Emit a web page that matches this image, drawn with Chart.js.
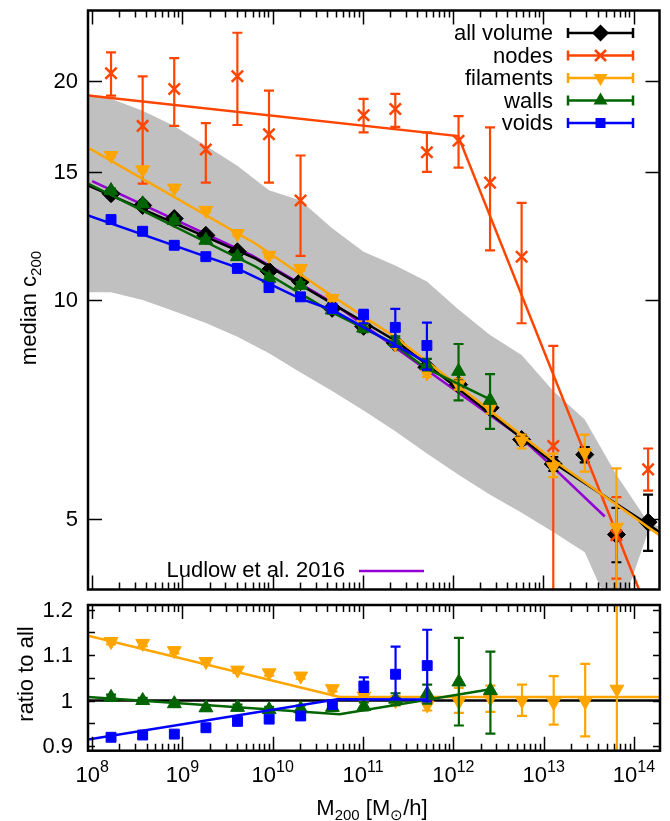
<!DOCTYPE html>
<html>
<head>
<meta charset="utf-8">
<script src="https://cdn.jsdelivr.net/npm/chart.js@4.4.1/dist/chart.umd.min.js"></script>
<style>
html, body { margin: 0; padding: 0; background: #fff; }
#wrap { position: relative; width: 670px; height: 821px; }
canvas { position: absolute; left: 0; }
#top { top: 0; }
#bot { top: 596px; }
</style>
</head>
<body>
<div id="wrap">
  <canvas id="top" width="670" height="600"></canvas>
  <canvas id="bot" width="670" height="225"></canvas>
</div>
<script>
// halo mass bins (M200 [Msun/h])
const masses = [1.62e8, 3.63e8, 8.13e8, 1.82e9, 4.07e9, 9.12e9, 2.04e10, 4.57e10, 1.02e11,
                2.29e11, 5.13e11, 1.15e12, 2.57e12, 5.75e12, 1.29e13, 2.88e13, 6.46e13, 1.45e14];

// median c200 per environment, with error bar ends
const allC  = [14.0, 13.49, 12.94, 12.27, 11.65, 10.96, 10.6, 9.74, 9.2, 8.73, 8.08, 7.65, 7.11, 6.43, 5.95, 6.13, 4.76, 4.95];
const allLo = [13.9, 13.4, 12.85, 12.18, 11.56, 10.88, 10.52, 9.66, 9.12, 8.65, 8.0, 7.56, 7.02, 6.33, 5.82, 5.98, 4.36, 4.52];
const allHi = [14.1, 13.58, 13.03, 12.36, 11.74, 11.04, 10.68, 9.82, 9.28, 8.81, 8.16, 7.74, 7.2, 6.53, 6.08, 6.28, 5.18, 5.4];

const nodeC  = [20.5, 17.35, 19.5, 16.1, 20.3, 16.9, 13.7, null, 17.95, 18.3, 15.96, 16.55, 14.5, 11.47, 6.3, null, 4.75, 5.85];
const nodeLo = [19.1, 14.45, 17.35, 14.5, 17.4, 14.5, 11.5, null, 17.0, 17.3, 15.0, 15.2, 11.7, 9.29, 3.0, null, 4.14, 5.47];
const nodeHi = [21.9, 20.3, 21.5, 17.5, 23.3, 19.4, 15.8, null, 18.9, 19.2, 17.0, 17.9, 17.27, 13.6, 8.65, null, 5.36, 6.25];

const filC  = [15.8, 15.1, 14.25, 13.28, 12.34, 11.52, 11.05, 10.05, 9.26, 8.7, 7.94, 7.65, 7.11, 6.4, 5.9, 6.17, 4.87, null];
const filLo = [15.72, 15.02, 14.17, 13.2, 12.26, 11.44, 10.97, 9.97, 9.17, 8.6, 7.84, 7.53, 6.98, 6.25, 5.71, 5.81, 3.0, null];
const filHi = [15.88, 15.18, 14.33, 13.36, 12.42, 11.6, 11.13, 10.13, 9.35, 8.8, 8.04, 7.8, 7.2, 6.53, 6.15, 6.53, 5.87, null];

const wallC  = [14.14, 13.56, 12.86, 12.08, 11.47, 10.71, 10.48, 9.69, 9.15, 8.77, 8.13, 7.98, 7.28, null, null, null, null, null];
const wallLo = [14.05, 13.47, 12.77, 11.99, 11.38, 10.62, 10.38, 9.58, 9.03, 8.63, 8.0, 7.28, 6.65, null, null, null, null, null];
const wallHi = [14.23, 13.65, 12.95, 12.17, 11.56, 10.8, 10.58, 9.8, 9.27, 8.91, 8.3, 8.7, 7.91, null, null, null, null, null];

const voidC  = [12.9, 12.43, 11.89, 11.47, 11.05, 10.4, 10.1, 9.74, 9.54, 9.17, 8.66, null, null, null, null, null, null, null];
const voidLo = [12.82, 12.35, 11.8, 11.38, 10.96, 10.3, 9.99, 9.6, 9.29, 8.63, 8.02, null, null, null, null, null, null, null];
const voidHi = [12.98, 12.51, 11.98, 11.56, 11.14, 10.5, 10.21, 9.88, 9.69, 9.72, 9.31, null, null, null, null, null, null, null];

// grey scatter band of all haloes
const bandMass = [9e7, 1.62e8, 3.63e8, 8.13e8, 1.82e9, 4.07e9, 9.12e9, 2.04e10, 4.57e10, 1.02e11,
                  2.29e11, 5.13e11, 1.15e12, 2.57e12, 5.75e12, 1.29e13, 2.88e13, 6.46e13, 1.45e14, 1.94e14];
const bandHigh = [19.2, 18.9, 18.2, 17.35, 16.3, 15.3, 14.15, 13.7, 12.55, 11.65,
                  11.15, 10.6, 9.7, 8.95, 8.4, 7.5, 6.85, 5.75, 4.95, 4.88];
const bandLow  = [10.25, 10.25, 10.0, 9.65, 9.3, 8.9, 8.45, 7.95, 7.5, 7.05,
                  6.6, 6.15, 5.75, 5.4, 5.1, 4.8, 4.5, 3.6, 4.8, 4.86];

// fitted curves
const allFitMass  = [9e7, 6.5e9, 2.38e11, 1.0e12, 1.28e13, 1.94e14];
const allFitC     = [14.37, 11.4, 8.77, 7.65, 5.98, 4.8];
const nodeFitMass = [9e7, 1.14e12, 1.94e14];
const nodeFitC    = [19.1, 16.8, 3.4];
const filFitMass  = [9e7, 6.5e9, 4.4e10, 2.38e11, 1.0e12, 1.28e13, 1.94e14];
const filFitC     = [16.2, 11.95, 10.16, 8.86, 7.72, 6.03, 4.75];
const wallFitMass = [9e7, 6.5e9, 4.4e10, 2.0e11, 5.0e11, 2.57e12];
const wallFitC    = [14.45, 11.11, 9.64, 8.77, 8.06, 7.3];
const voidFitMass = [9e7, 3.4e9, 2.0e10, 4.6e10, 5.13e11];
const voidFitC    = [13.07, 11.17, 10.05, 9.69, 8.2];
const ludlowMass  = [1.0e8, 5.9e9, 4.4e10, 5.1e12, 1.08e13, 4.8e13];
const ludlowC     = [14.57, 11.52, 9.95, 6.54, 6.01, 5.04];

// ratio to all volume (lower panel)
const ratioFil   = [1.13, 1.126, 1.11, 1.086, 1.067, 1.061, 1.054, 1.026, 1.01, 1.0, 0.99, 0.998, 1.005, 1.0, 0.996, 0.998, 1.025, null];
const ratioFilLo = [1.124, 1.12, 1.104, 1.08, 1.061, 1.055, 1.048, 1.02, 1.0, 0.99, 0.978, 0.973, 0.975, 0.966, 0.947, 0.921, 0.8, null];
const ratioFilHi = [1.136, 1.132, 1.116, 1.092, 1.073, 1.067, 1.06, 1.032, 1.02, 1.01, 1.002, 1.028, 1.033, 1.035, 1.054, 1.081, 1.3, null];
const ratioWall   = [1.007, 1.0, 0.993, 0.984, 0.985, 0.98, 0.982, 0.985, 0.987, 1.003, 1.015, 1.041, 1.022];
const ratioWallLo = [1.001, 0.994, 0.987, 0.978, 0.979, 0.974, 0.975, 0.977, 0.978, 0.99, 0.993, 0.945, 0.927];
const ratioWallHi = [1.013, 1.006, 0.999, 0.99, 0.991, 0.986, 0.989, 0.993, 0.996, 1.016, 1.035, 1.138, 1.108];
const ratioVoid   = [0.919, 0.924, 0.926, 0.94, 0.954, 0.959, 0.966, 0.991, 1.032, 1.058, 1.077];
const ratioVoidLo = [0.913, 0.918, 0.92, 0.934, 0.948, 0.953, 0.959, 0.982, 1.019, 1.005, 0.998];
const ratioVoidHi = [0.925, 0.93, 0.932, 0.946, 0.96, 0.965, 0.973, 1.0, 1.051, 1.119, 1.156];

const ratioAllMass  = [9e7, 1.94e14];
const ratioAll      = [1, 1];
const ratioFilMass  = [9e7, 5.5e10, 1.94e14];
const ratioFilFit   = [1.143, 1.008, 1.008];
const ratioWallMass = [9e7, 5.5e10, 2.57e12];
const ratioWallFit  = [1.008, 0.97, 1.025];
const ratioVoidMass = [9e7, 5.2e10, 5.13e11];
const ratioVoidFit  = [0.914, 1.003, 1.002];

const topYTicks = [5, 10, 15, 20];
const botYTicks = [0.9, 0.95, 1.0, 1.05, 1.1, 1.15, 1.2];
const botYLabels = { 0.9: '0.9', 1: '1', 1.1: '1.1', 1.2: '1.2' };
const xDecades = [8, 9, 10, 11, 12, 13, 14];

const legendNames = ['all volume', 'nodes', 'filaments', 'walls', 'voids'];

const BLACK = '#000000', NODE = '#ff4500', FIL = '#ffa500', WALL = '#006400', VOID = '#0000ff', LUD = '#9400d3';
const FONT = '"Liberation Sans", Arial, sans-serif';
const LW = 2.5;

function curve(xs, ys) {
    return xs.map((x, i) => ({ x: x, y: ys[i] }));
}

function pts(ys, lo, hi) {
    const out = [];
    ys.forEach((y, i) => {
        if (y != null) out.push({ x: masses[i], y: y, lo: lo[i], hi: hi[i] });
    });
    return out;
}

function line(xs, ys, color, order) {
    return { data: curve(xs, ys), showLine: true, borderColor: color, borderWidth: LW,
             pointRadius: 0, fill: false, order: order };
}

function marks(data, color, style, r, rot, order) {
    return { data: data, showLine: false, errbars: true, borderColor: color, backgroundColor: color,
             pointStyle: style, pointRadius: r, pointRotation: rot,
             pointBorderWidth: style === 'crossRot' ? 2.5 : 1, order: order };
}

// draw text made of pieces with own size and vertical shift (sub/superscripts)
function richText(ctx, parts, x, y, align) {
    let w = 0;
    parts.forEach(p => { ctx.font = p[1] + 'px ' + FONT; w += ctx.measureText(p[0]).width; });
    let cx = align === 'center' ? x - w / 2 : (align === 'right' ? x - w : x);
    ctx.textAlign = 'left';
    ctx.textBaseline = 'alphabetic';
    parts.forEach(p => {
        ctx.font = p[1] + 'px ' + FONT;
        ctx.fillText(p[0], cx, y + p[2]);
        cx += ctx.measureText(p[0]).width;
    });
}

function markerShape(ctx, style, x, y, color) {
    ctx.fillStyle = color;
    ctx.strokeStyle = color;
    ctx.beginPath();
    if (style === 'diamond') {
        ctx.moveTo(x, y - 8.5); ctx.lineTo(x + 8.5, y); ctx.lineTo(x, y + 8.5); ctx.lineTo(x - 8.5, y); ctx.closePath(); ctx.fill();
    } else if (style === 'cross') {
        ctx.lineWidth = 2.5;
        ctx.moveTo(x - 5.5, y - 5.5); ctx.lineTo(x + 5.5, y + 5.5); ctx.moveTo(x - 5.5, y + 5.5); ctx.lineTo(x + 5.5, y - 5.5); ctx.stroke();
    } else if (style === 'down') {
        ctx.moveTo(x - 7, y - 4); ctx.lineTo(x + 7, y - 4); ctx.lineTo(x, y + 8); ctx.closePath(); ctx.fill();
    } else if (style === 'up') {
        ctx.moveTo(x - 7, y + 4); ctx.lineTo(x + 7, y + 4); ctx.lineTo(x, y - 8); ctx.closePath(); ctx.fill();
    } else {
        ctx.rect(x - 5, y - 5, 10, 10); ctx.fill();
    }
}

const errorBars = {
    id: 'errorBars',
    beforeDatasetDraw(chart, args) {
        const ds = chart.data.datasets[args.index];
        if (!ds.errbars) return;
        const ctx = chart.ctx, a = chart.chartArea, xs = chart.scales.x, ys = chart.scales.y;
        ctx.save();
        ctx.beginPath();
        ctx.rect(a.left, a.top, a.right - a.left, a.bottom - a.top);
        ctx.clip();
        ctx.strokeStyle = ds.borderColor;
        ctx.lineWidth = 2.2;
        ds.data.forEach(p => {
            if (p.lo == null) return;
            const px = xs.getPixelForValue(p.x);
            const lo = ys.getPixelForValue(p.lo), hi = ys.getPixelForValue(p.hi);
            ctx.beginPath();
            ctx.moveTo(px, lo); ctx.lineTo(px, hi);
            ctx.moveTo(px - 5, lo); ctx.lineTo(px + 5, lo);
            ctx.moveTo(px - 5, hi); ctx.lineTo(px + 5, hi);
            ctx.stroke();
        });
        ctx.restore();
    }
};

// frame with inward ticks on all four sides
function drawFrame(chart, yTicks, yLen) {
    const ctx = chart.ctx, a = chart.chartArea, xs = chart.scales.x, ys = chart.scales.y;
    ctx.save();
    ctx.strokeStyle = BLACK;
    ctx.lineWidth = 1.5;
    ctx.beginPath();
    for (let d = 7; d <= 14; d++) {
        for (let k = 1; k <= 9; k++) {
            const v = k * Math.pow(10, d);
            if (v <= xs.min * 1.001 || v >= xs.max / 1.001) continue;
            const px = Math.round(xs.getPixelForValue(v)) + 0.5;
            const len = k === 1 ? 14 : 7;
            ctx.moveTo(px, a.bottom); ctx.lineTo(px, a.bottom - len);
            ctx.moveTo(px, a.top); ctx.lineTo(px, a.top + len);
        }
    }
    yTicks.forEach(v => {
        const py = Math.round(ys.getPixelForValue(v)) + 0.5;
        ctx.moveTo(a.left, py); ctx.lineTo(a.left + yLen, py);
        ctx.moveTo(a.right, py); ctx.lineTo(a.right - yLen, py);
    });
    ctx.stroke();
    ctx.lineWidth = 2.5;
    ctx.strokeRect(a.left, a.top, a.right - a.left, a.bottom - a.top);
    ctx.restore();
}

const topDecor = {
    id: 'topDecor',
    afterDatasetsDraw(chart) {
        const ctx = chart.ctx, ys = chart.scales.y;
        drawFrame(chart, topYTicks, 14);
        ctx.save();
        ctx.fillStyle = BLACK;
        ctx.font = '22px ' + FONT;
        ctx.textAlign = 'right';
        ctx.textBaseline = 'middle';
        topYTicks.forEach(v => ctx.fillText(String(v), 78, ys.getPixelForValue(v) + 1));

        ctx.save();
        ctx.translate(36, 308);
        ctx.rotate(-Math.PI / 2);
        richText(ctx, [['median c', 22, 0], ['200', 15, 5]], 0, 0, 'center');
        ctx.restore();

        // key
        const colors = [BLACK, NODE, FIL, WALL, VOID];
        const shapes = ['diamond', 'cross', 'down', 'up', 'square'];
        legendNames.forEach((name, i) => {
            const y = 33 + i * 22.5;
            ctx.fillStyle = BLACK;
            ctx.font = '22px ' + FONT;
            ctx.textAlign = 'right';
            ctx.textBaseline = 'middle';
            ctx.fillText(name, 553, y + 1);
            ctx.strokeStyle = colors[i];
            ctx.lineWidth = LW;
            ctx.beginPath();
            ctx.moveTo(568, y); ctx.lineTo(633, y);
            ctx.moveTo(568, y - 5); ctx.lineTo(568, y + 5);
            ctx.moveTo(633, y - 5); ctx.lineTo(633, y + 5);
            ctx.stroke();
            markerShape(ctx, shapes[i], 600.5, y, colors[i]);
        });

        ctx.fillStyle = BLACK;
        ctx.font = '22px ' + FONT;
        ctx.textAlign = 'right';
        ctx.textBaseline = 'middle';
        ctx.fillText('Ludlow et al. 2016', 345, 571);
        ctx.strokeStyle = LUD;
        ctx.lineWidth = LW;
        ctx.beginPath();
        ctx.moveTo(359, 571); ctx.lineTo(424, 571);
        ctx.stroke();
        ctx.restore();
    }
};

const botDecor = {
    id: 'botDecor',
    afterDatasetsDraw(chart) {
        const ctx = chart.ctx, xs = chart.scales.x, ys = chart.scales.y;
        drawFrame(chart, botYTicks, 7);
        ctx.save();
        ctx.fillStyle = BLACK;
        ctx.font = '22px ' + FONT;
        ctx.textAlign = 'right';
        ctx.textBaseline = 'middle';
        botYTicks.forEach(v => {
            const lab = botYLabels[v];
            if (lab) ctx.fillText(lab, 73, ys.getPixelForValue(v) + 1);
        });
        xDecades.forEach(d => {
            richText(ctx, [['10', 22, 0], [String(d), 16, -10]], xs.getPixelForValue(Math.pow(10, d)), 186, 'center');
        });
        richText(ctx, [['M', 22, 0], ['200', 15, 5], [' [M', 22, 0], ['\u2299', 15, 5], ['/h]', 22, 0]], 372, 219, 'center');

        ctx.translate(33, 78);
        ctx.rotate(-Math.PI / 2);
        richText(ctx, [['ratio to all', 22, 0]], 0, 0, 'center');
        ctx.restore();
    }
};

const baseOpts = (pad, yScale) => ({
    responsive: false,
    animation: false,
    devicePixelRatio: 1,
    layout: { padding: pad },
    plugins: { legend: { display: false }, tooltip: { enabled: false } },
    scales: {
        x: { type: 'logarithmic', min: 9e7, max: 1.94e14, display: false },
        y: yScale
    }
});

new Chart(document.getElementById('top'), {
    type: 'scatter',
    data: {
        datasets: [
            { data: curve(bandMass, bandHigh), showLine: true, borderWidth: 0, borderColor: 'rgba(0,0,0,0)',
              pointRadius: 0, fill: '+1', backgroundColor: '#c0c0c0', order: 40 },
            { data: curve(bandMass, bandLow), showLine: true, borderWidth: 0, borderColor: 'rgba(0,0,0,0)',
              pointRadius: 0, fill: false, order: 39 },
            line(ludlowMass, ludlowC, LUD, 38),
            line(allFitMass, allFitC, BLACK, 37),
            marks(pts(allC, allLo, allHi), BLACK, 'rectRot', 9, 0, 36),
            line(nodeFitMass, nodeFitC, NODE, 35),
            marks(pts(nodeC, nodeLo, nodeHi), NODE, 'crossRot', 8, 0, 34),
            line(filFitMass, filFitC, FIL, 33),
            marks(pts(filC, filLo, filHi), FIL, 'triangle', 8, 180, 32),
            line(wallFitMass, wallFitC, WALL, 31),
            marks(pts(wallC, wallLo, wallHi), WALL, 'triangle', 8, 0, 30),
            line(voidFitMass, voidFitC, VOID, 29),
            marks(pts(voidC, voidLo, voidHi), VOID, 'rect', 7, 0, 28)
        ]
    },
    options: baseOpts({ left: 88, right: 10, top: 10, bottom: 6.7 },
                      { type: 'logarithmic', min: 4, max: 25, display: false }),
    plugins: [errorBars, topDecor]
});

new Chart(document.getElementById('bot'), {
    type: 'scatter',
    data: {
        datasets: [
            line(ratioAllMass, ratioAll, BLACK, 20),
            line(ratioFilMass, ratioFilFit, FIL, 19),
            marks(pts(ratioFil, ratioFilLo, ratioFilHi), FIL, 'triangle', 8, 180, 18),
            line(ratioWallMass, ratioWallFit, WALL, 17),
            marks(pts(ratioWall, ratioWallLo, ratioWallHi), WALL, 'triangle', 8, 0, 16),
            line(ratioVoidMass, ratioVoidFit, VOID, 15),
            marks(pts(ratioVoid, ratioVoidLo, ratioVoidHi), VOID, 'rect', 7, 0, 14)
        ]
    },
    options: baseOpts({ left: 88, right: 10, top: 3, bottom: 70.3 },
                      { type: 'linear', min: 0.8894, max: 1.2106, display: false }),
    plugins: [errorBars, botDecor]
});
</script>
</body>
</html>
